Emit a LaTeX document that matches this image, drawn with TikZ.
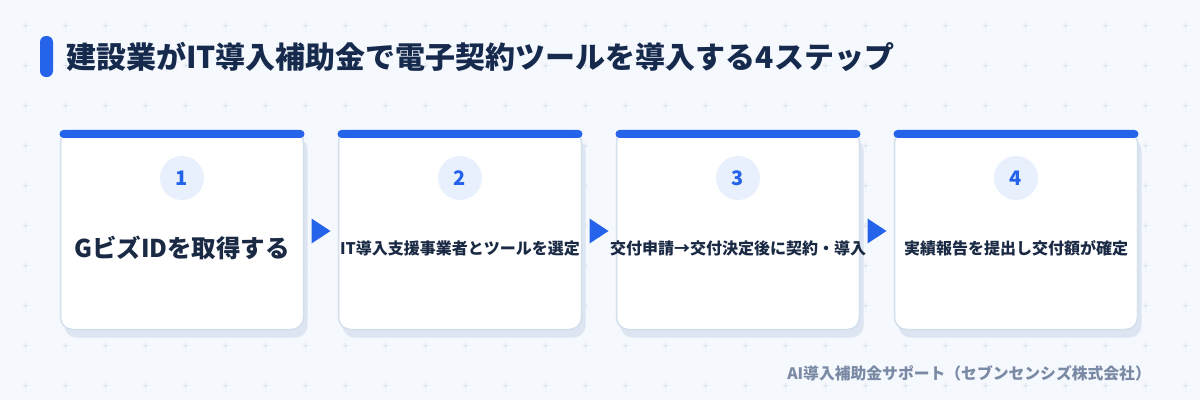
\documentclass[tikz,border=0pt]{standalone}
\usepackage{fontspec}
\setmainfont{Noto Sans CJK JP}
\usetikzlibrary{shadows}

\definecolor{bgcol}{HTML}{F5F8FD}
\definecolor{gridcol}{HTML}{DCE3EE}
\definecolor{stepblue}{HTML}{2563EB}
\definecolor{titlecol}{HTML}{162A4D}
\definecolor{textcol}{HTML}{1B2A44}
\definecolor{cardline}{HTML}{D4DFED}
\definecolor{cardshadow}{HTML}{DCE5F1}
\definecolor{numfill}{HTML}{E8F0FD}
\definecolor{footcol}{HTML}{7A8AA5}

\tikzset{
  card/.style={rectangle, rounded corners=12pt, draw=cardline, line width=1.5pt, fill=white,
    minimum width=243pt, minimum height=199pt, inner sep=0pt,
    drop shadow={shadow xshift=4pt, shadow yshift=-8pt, fill=cardshadow, opacity=1}},
  topbar/.style={rectangle, rounded corners=4pt, fill=stepblue, minimum width=245pt,
    minimum height=8pt, inner sep=0pt, anchor=north},
  numcircle/.style={circle, fill=numfill, minimum size=44pt, inner sep=0pt,
    text=stepblue, font=\fontsize{20}{24}\selectfont\bfseries},
  steptext/.style={inner sep=0pt, text=textcol, font=\fontsize{16}{19}\selectfont\bfseries},
  bigtext/.style={inner sep=0pt, text=textcol, font=\fontsize{24.5}{28}\selectfont\bfseries},
  gridmark/.style={draw=gridcol, line width=1pt},
}

\begin{document}
\begin{tikzpicture}[x=1pt,y=-1pt]
\useasboundingbox (0,0) rectangle (1200,400);
\fill[bgcol] (0,0) rectangle (1200,400);

% background crosses
\foreach \gx in {0,...,29}
  \foreach \gy in {0,...,9}
    \draw[gridmark] ({25+40*\gx-2.5},{25+40*\gy}) -- ({25+40*\gx+2.5},{25+40*\gy})
                    ({25+40*\gx},{25+40*\gy-2.5}) -- ({25+40*\gx},{25+40*\gy+2.5});

% title
\fill[stepblue, rounded corners=6pt] (40,36) rectangle (53,77);
\node[anchor=west, inner sep=0pt, text=titlecol, font=\fontsize{30}{35}\selectfont\bfseries] (title) at (66,57) {建設業がIT導入補助金で電子契約ツールを導入する4ステップ};

% cards
\node[card] (card1) at (182,230){};
\node[card] (card2) at (460,230){};
\node[card] (card3) at (738,230){};
\node[card] (card4) at (1016,230){};
\node[topbar] (bar1) at (card1.north){};
\node[topbar] (bar2) at (card2.north){};
\node[topbar] (bar3) at (card3.north){};
\node[topbar] (bar4) at (card4.north){};

\node[numcircle] (num1) at (182,178){1};
\node[numcircle] (num2) at (460,178){2};
\node[numcircle] (num3) at (738,178){3};
\node[numcircle] (num4) at (1016,178){4};

\node[bigtext] (txt1) at (182,248){GビズIDを取得する};
\node[steptext] (txt2) at (460,248){IT導入支援事業者とツールを選定};
\node[steptext] (txt3) at (738,248){交付申請→交付決定後に契約・導入};
\node[steptext] (txt4) at (1016,248){実績報告を提出し交付額が確定};

% arrows between cards
\path (card1.east) -- (card2.west) coordinate[midway] (a12);
\path (card2.east) -- (card3.west) coordinate[midway] (a23);
\path (card3.east) -- (card4.west) coordinate[midway] (a34);
\fill[stepblue] (a12) ++(-9.5,-11.5) -- ++(0,25) -- ++(19,-12.5) -- cycle;
\fill[stepblue] (a23) ++(-9.5,-11.5) -- ++(0,25) -- ++(19,-12.5) -- cycle;
\fill[stepblue] (a34) ++(-9.5,-11.5) -- ++(0,25) -- ++(19,-12.5) -- cycle;

% footer
\node[anchor=east, inner sep=0pt, text=footcol, font=\fontsize{15.8}{19}\selectfont\bfseries] (foot) at (1151,373) {AI導入補助金サポート（セブンセンシズ株式会社）};

\end{tikzpicture}
\end{document}
